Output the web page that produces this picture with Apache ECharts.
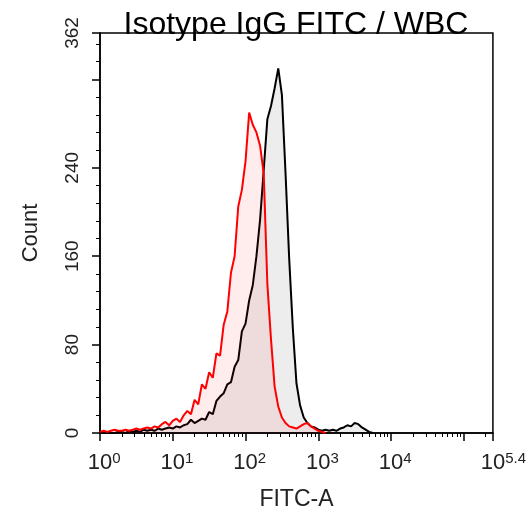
<!DOCTYPE html>
<html>
<head>
<meta charset="utf-8">
<script src="https://cdn.jsdelivr.net/npm/echarts@6/dist/echarts.min.js"></script>
<style>
html,body{margin:0;padding:0;background:#fff;}
#chart{width:529px;height:519px;}
</style>
</head>
<body>
<div id="chart"></div>
<script>
// bin positions in decades (log10 of FITC-A)
const binLog10 = [0.00,0.05,0.10,0.15,0.20,0.25,0.30,0.35,0.40,0.45,0.50,0.55,0.60,0.65,0.70,0.75,0.80,0.85,0.90,0.95,
  1.00,1.05,1.10,1.15,1.20,1.25,1.30,1.35,1.40,1.45,1.50,1.55,1.60,1.65,1.70,1.75,1.80,1.85,1.90,1.95,
  2.00,2.05,2.10,2.15,2.20,2.25,2.30,2.35,2.40,2.45,2.50,2.55,2.60,2.65,2.70,2.75,2.80,2.85,2.90,2.95,
  3.00,3.05,3.10,3.15,3.20,3.25,3.30,3.35,3.40,3.45,3.50,3.55,3.60,3.65,3.70,3.75];
// isotype (red) counts
const redCounts = [1,2,1,2,3,2,2,3,2,3,4,3,4,5,4,6,5,8,10,7,
  11,13,10,16,20,17,30,26,44,40,55,50,72,70,98,110,145,160,205,220,
  246,290,279,272,260,235,135,85,42,24,14,9,6,5,4,6,8,9,6,4,
  2,1,0];
// sample (black) counts
const blackCounts = [0,0,0,0,0,1,1,0,2,1,2,1,3,2,3,2,4,3,4,5,
  4,6,5,7,8,12,9,11,13,12,19,17,29,33,36,44,46,60,66,92,
  99,120,134,160,193,238,284,296,312,330,306,235,158,95,45,25,14,9,6,5,
  3,2,3,2,3,2,4,5,7,6,9,8,5,3,1,0];
const yTickLabels = [0, 80, 160, 240, 362];
const yTicks = [0, 80, 160, 240, 320, 362];
const xTickLabels = [0, 1, 2, 3, 4, 5.4];
const xTicks = [0, 1, 2, 3, 4, 5, 5.4];

const xMinor = [];
for (let d = 0; d <= 5; d++) {
  for (let k = 2; k <= 9; k++) {
    const v = d + Math.log10(k);
    if (v < 5.4) xMinor.push(v);
  }
}

const FONT = "'Liberation Sans', Arial, sans-serif";
const redData = redCounts.map((v, i) => [binLog10[i], v]);
const blackData = blackCounts.map((v, i) => [binLog10[i], v]);

const chart = echarts.init(document.getElementById('chart'), null, {renderer: 'canvas'});
chart.setOption({
  animation: false,
  backgroundColor: '#fff',
  graphic: [{
    type: 'text', x: 296, y: 25, z: 10,
    style: {text: 'Isotype IgG FITC / WBC', fill: '#000', font: '32px ' + FONT, align: 'center', verticalAlign: 'middle'}
  }],
  grid: {left: 100, right: 30, top: 33, bottom: 86, show: true, borderColor: '#000', borderWidth: 1.5, backgroundColor: 'transparent'},
  xAxis: [{
    type: 'value', min: 0, max: 5.4, interval: 1, position: 'bottom',
    name: 'FITC-A', nameLocation: 'middle', nameGap: 55,
    nameTextStyle: {fontFamily: FONT, fontSize: 23, color: '#222'},
    axisLine: {show: true, lineStyle: {color: '#000', width: 1.5}},
    axisTick: {show: true, length: 8, customValues: xTicks, lineStyle: {color: '#000', width: 1.5}},
    splitLine: {show: false},
    axisLabel: {
      customValues: xTickLabels, margin: 18,
      formatter: function (v) {
        const e = (Math.round(v * 10) / 10).toString();
        return '{sp|' + e + '}{b|10}{s|' + e + '}';
      },
      rich: {
        b: {fontFamily: FONT, fontSize: 22, color: '#222', lineHeight: 23},
        s: {fontFamily: FONT, fontSize: 15, color: '#222', verticalAlign: 'top', lineHeight: 16},
        sp: {fontFamily: FONT, fontSize: 15, color: 'rgba(0,0,0,0)', verticalAlign: 'top', lineHeight: 16}
      }
    }
  }, {
    type: 'value', min: 0, max: 5.4, position: 'bottom',
    axisLine: {show: false},
    axisTick: {show: true, length: 4, customValues: xMinor, lineStyle: {color: '#000', width: 1}},
    axisLabel: {show: false},
    splitLine: {show: false}
  }],
  yAxis: [{
    type: 'value', min: 0, max: 362, interval: 80,
    name: 'Count', nameLocation: 'middle', nameGap: 58, nameRotate: 90,
    nameTextStyle: {fontFamily: FONT, fontSize: 22, color: '#222'},
    axisLine: {show: true, lineStyle: {color: '#000', width: 1.5}},
    axisTick: {show: true, length: 8, customValues: yTicks, lineStyle: {color: '#000', width: 1.5}},
    minorTick: {show: true, splitNumber: 5, length: 4, lineStyle: {color: '#000', width: 1}},
    splitLine: {show: false},
    minorSplitLine: {show: false},
    axisLabel: {customValues: yTickLabels, rotate: 90, margin: 18, fontFamily: FONT, fontSize: 19, color: '#222'}
  }],
  series: [{
    type: 'line', name: 'isotype', data: redData, showSymbol: false, symbol: 'none',
    lineStyle: {color: '#ff0000', width: 2}, areaStyle: {color: 'rgba(255,0,0,0.1)'}, z: 3
  }, {
    type: 'line', name: 'sample', data: blackData, showSymbol: false, symbol: 'none',
    lineStyle: {color: '#000', width: 2}, areaStyle: {color: 'rgba(0,0,0,0.1)'}, z: 2
  }]
});
</script>
</body>
</html>
